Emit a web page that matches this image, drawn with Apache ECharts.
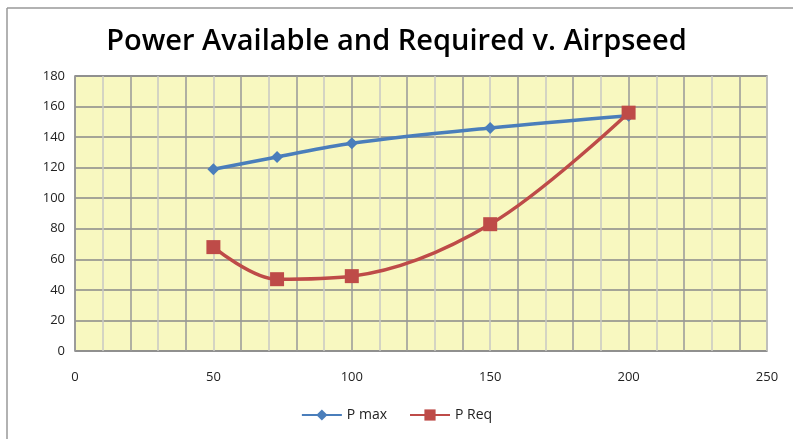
<!DOCTYPE html>
<html>
<head>
<meta charset="utf-8">
<script src="https://cdn.jsdelivr.net/npm/echarts@6/dist/echarts.min.js"></script>
<style>
  html, body { margin: 0; padding: 0; background: #fff; }
  #chart { width: 793px; height: 439px; }
</style>
</head>
<body>
<div id="chart"></div>
<script>
  // airspeed values and the two power curves
  var airspeed = [50, 73, 100, 150, 200]
  var pMax = [119, 127, 136, 146, 154]
  var pReq = [68, 47, 49, 83, 156]
  var xTicks = [0, 50, 100, 150, 200, 250]
  var yTicks = [0, 20, 40, 60, 80, 100, 120, 140, 160, 180]

  function pairs(xs, ys) {
    return xs.map(function(x, i) { return [x, ys[i]] })
  }

  var chart = echarts.init(document.getElementById('chart'))
  chart.setOption({
    animation: false,
    title: {
      text: 'Power Available and Required v. Airpseed',
      left: 'center',
      top: 22,
      textStyle: { fontFamily: 'Open Sans', fontWeight: 600, fontSize: 29, color: '#000' }
    },
    legend: {
      bottom: 12,
      left: 'center',
      itemWidth: 40,
      itemHeight: 14,
      itemGap: 22,
      textStyle: { fontFamily: 'Open Sans', fontSize: 14, color: '#222' },
      data: ['P max', 'P Req']
    },
    grid: {
      left: 75, right: 26, top: 76, bottom: 88,
      show: true,
      backgroundColor: '#f8f8c0',
      borderColor: '#888',
      borderWidth: 1.5
    },
    xAxis: {
      type: 'value',
      min: xTicks[0],
      max: xTicks[xTicks.length - 1],
      interval: 10,
      axisLine: { show: false },
      axisTick: { show: false },
      axisLabel: {
        margin: 20,
        fontFamily: 'Open Sans',
        fontSize: 13,
        color: '#222',
        formatter: function(v) { return xTicks.indexOf(v) >= 0 ? String(v) : '' }
      },
      splitLine: { show: true, lineStyle: { color: ['#999', '#c9c9c4'], width: 1.5 } }
    },
    yAxis: {
      type: 'value',
      min: yTicks[0],
      max: yTicks[yTicks.length - 1],
      interval: 20,
      axisLine: { show: false },
      axisTick: { show: false },
      axisLabel: { margin: 10, fontFamily: 'Open Sans', fontSize: 13, color: '#222' },
      splitLine: { show: true, lineStyle: { color: '#8a8a8a', width: 1.5 } }
    },
    graphic: [
      { type: 'line', shape: { x1: 7, y1: 8, x2: 793, y2: 8 }, style: { stroke: '#999', lineWidth: 1.5 } },
      { type: 'line', shape: { x1: 7, y1: 8, x2: 7, y2: 439 }, style: { stroke: '#999', lineWidth: 1.5 } }
    ],
    series: [
      {
        name: 'P max',
        type: 'line',
        smooth: 0.35,
        data: pairs(airspeed, pMax),
        symbol: 'diamond',
        symbolSize: 12,
        lineStyle: { color: '#4a7ebb', width: 3.5 },
        itemStyle: { color: '#4a7ebb' }
      },
      {
        name: 'P Req',
        type: 'line',
        smooth: 0.35,
        data: pairs(airspeed, pReq),
        symbol: 'rect',
        symbolSize: 14,
        lineStyle: { color: '#be4b48', width: 3.5 },
        itemStyle: { color: '#be4b48' }
      }
    ]
  })
</script>
</body>
</html>
